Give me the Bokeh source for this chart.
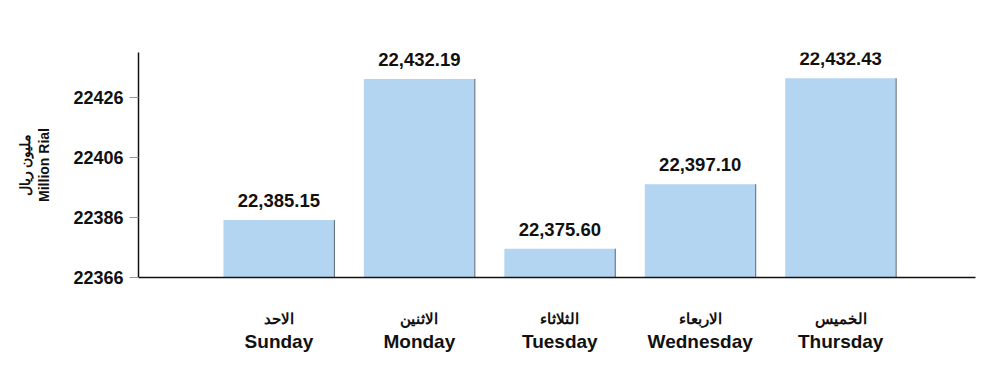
from bokeh.plotting import figure
from bokeh.models import ColumnDataSource, LabelSet, Range1d, FixedTicker, LinearAxis
from bokeh.core.properties import value
from bokeh.embed import file_html
from bokeh.resources import INLINE

days_en = ["Sunday", "Monday", "Tuesday", "Wednesday", "Thursday"]
days_ar = ["الاحد", "الاثنين", "الثلاثاء", "الاربعاء", "الخميس"]
values = [22385.15, 22432.19, 22375.60, 22397.10, 22432.43]
y_ticks = [22366, 22386, 22406, 22426]
y_title_ar = "مليون ريال"
y_title_en = "Million Rial"

xs = list(range(len(days_en)))
base = y_ticks[0]
src = ColumnDataSource(dict(
    x=xs,
    top=values,
    label=[f"{v:,.2f}" for v in values],
    edge=[x + 0.395 for x in xs],
    base=[base] * len(xs),
))

FONT = "Liberation Sans"

p = figure(width=984, height=357, x_range=Range1d(-1, 4.96), y_range=Range1d(base, 22441),
           output_backend="svg", toolbar_location=None,
           min_border_left=138, min_border_right=9, min_border_top=52, min_border_bottom=80)
p.xgrid.visible = False
p.ygrid.visible = False
p.outline_line_color = None
p.background_fill_color = "white"

p.vbar(x="x", width=0.79, top="top", bottom="base", source=src,
       fill_color="#B3D5F2", line_color=None)
p.segment(x0="edge", y0="base", x1="edge", y1="top", source=src,
          line_color="#5a6a78", line_width=1)

labels = LabelSet(x="x", y="top", text="label", source=src, y_offset=13,
                  text_align="center", text_baseline="bottom",
                  text_font=value(FONT), text_font_style="bold", text_font_size="18.5px",
                  text_color="#111111")
p.add_layout(labels)

# y axis
ya = p.yaxis[0]
ya.ticker = FixedTicker(ticks=y_ticks)
ya.minor_tick_line_color = None
ya.major_tick_in = 0
ya.major_tick_out = 9
ya.major_tick_line_color = "#999999"
ya.axis_line_color = "#111111"
ya.axis_line_width = 1.5
ya.major_label_text_font = FONT
ya.major_label_text_font_style = "bold"
ya.major_label_text_font_size = "18px"
ya.major_label_text_color = "#111111"
ya.major_label_standoff = 6
ya.axis_label = y_title_ar + "\n" + y_title_en
ya.axis_label_text_font = FONT
ya.axis_label_text_font_style = "bold"
ya.axis_label_text_font_size = "14px"
ya.axis_label_text_color = "#111111"
ya.axis_label_standoff = 18

# x axes
xa = p.xaxis[0]
xa.ticker = FixedTicker(ticks=xs)
xa.major_label_overrides = {i: d for i, d in enumerate(days_ar)}
xa.major_tick_line_color = None
xa.minor_tick_line_color = None
xa.axis_line_color = "#111111"
xa.axis_line_width = 1.5
xa.major_label_text_font = FONT
xa.major_label_text_font_style = "bold"
xa.major_label_text_font_size = "15px"
xa.major_label_text_color = "#111111"
xa.major_label_standoff = 26

xb = LinearAxis(ticker=FixedTicker(ticks=xs))
xb.major_label_overrides = {i: d for i, d in enumerate(days_en)}
xb.major_tick_line_color = None
xb.minor_tick_line_color = None
xb.axis_line_color = None
xb.major_label_text_font = FONT
xb.major_label_text_font_style = "bold"
xb.major_label_text_font_size = "19px"
xb.major_label_text_color = "#111111"
xb.major_label_standoff = -5
p.add_layout(xb, "below")

open("out.html", "w").write(file_html(p, INLINE))
